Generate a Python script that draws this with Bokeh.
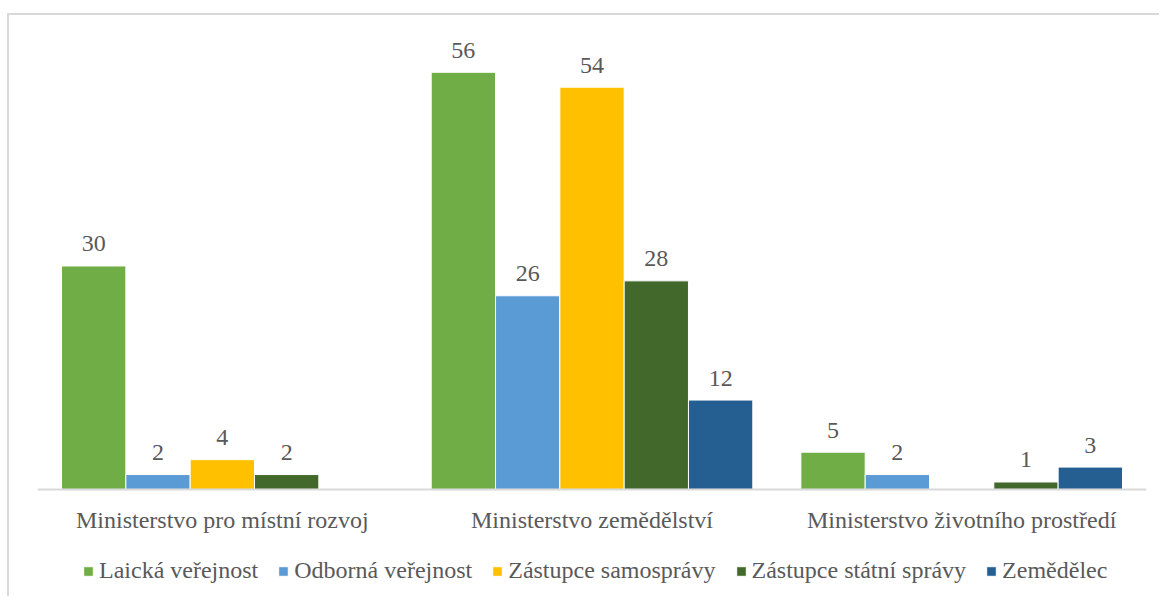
from bokeh.plotting import figure
from bokeh.models import ColumnDataSource, FactorRange, Legend, LegendItem, Range1d
from bokeh.transform import dodge
from bokeh.embed import file_html
from bokeh.resources import INLINE
from bokeh.core.properties import value

categories = ["Ministerstvo pro místní rozvoj", "Ministerstvo zemědělství", "Ministerstvo životního prostředí"]
series_names = ["Laická veřejnost", "Odborná veřejnost", "Zástupce samosprávy", "Zástupce státní správy", "Zemědělec"]
laicka = [30, 56, 5]
odborna = [2, 26, 2]
samosprava = [4, 54, 0]
statni = [2, 28, 1]
zemedelec = [0, 12, 3]
colors = ["#70AD47", "#5B9BD5", "#FFC000", "#43682B", "#255E91"]

series_values = [laicka, odborna, samosprava, statni, zemedelec]

FONT = "Liberation Serif"
TXT = "#595959"

p = figure(x_range=FactorRange(*categories, range_padding=0), y_range=Range1d(-14.64, 60),
           width=1152, height=583, output_backend="svg", toolbar_location=None,
           min_border_left=28, min_border_right=15, min_border_top=27, min_border_bottom=0)
p.styles = {"border-left": "2px solid #d9d9d9", "border-top": "2px solid #d9d9d9"}
p.margin = (13, 0, 0, 7)

bw = 0.174
offsets = [-2 * bw, -bw, 0, bw, 2 * bw]
items = []
for name, vals, col, off in zip(series_names, series_values, colors, offsets):
    src = ColumnDataSource(dict(x=categories, top=vals,
                                lab=[str(v) if v > 0 else "" for v in vals]))
    r = p.vbar(x=dodge("x", off, range=p.x_range), top="top", width=bw, source=src,
               fill_color=col, line_color="white", line_width=1)
    p.text(x=dodge("x", off, range=p.x_range), y="top", text="lab", source=src,
           text_font=value(FONT), text_font_size="24px", text_color=TXT,
           text_align="center", text_baseline="alphabetic", y_offset=-22)
    items.append(LegendItem(label=name, renderers=[r]))

p.yaxis.visible = False
p.xgrid.visible = False
p.ygrid.visible = False
p.outline_line_color = None
p.xaxis.fixed_location = 0
p.xaxis.axis_line_color = "#d9d9d9"
p.xaxis.axis_line_width = 2
p.xaxis.major_tick_line_color = None
p.xaxis.minor_tick_line_color = None
p.xaxis.major_label_text_font = FONT
p.xaxis.major_label_text_font_size = "24px"
p.xaxis.major_label_text_color = TXT
p.xaxis.major_label_standoff = 12

legend = Legend(items=items, orientation="horizontal", location=(45, 14),
                label_text_font=FONT, label_text_font_size="24px", label_text_color=TXT,
                glyph_width=12, glyph_height=12, label_standoff=5, spacing=19,
                border_line_color=None, background_fill_alpha=0, margin=0, padding=0)
p.add_layout(legend, "center")

open("out.html", "w").write(file_html(p, INLINE))
